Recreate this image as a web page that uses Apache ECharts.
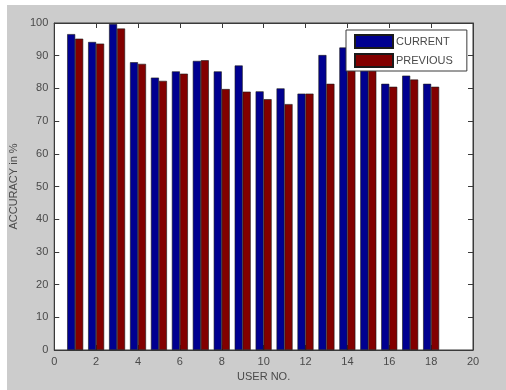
<!DOCTYPE html>
<html>
<head>
<meta charset="utf-8">
<script src="https://cdn.jsdelivr.net/npm/echarts@6/dist/echarts.min.js"></script>
<style>
  html, body { margin: 0; padding: 0; background: #ffffff; }
  #chart { width: 506px; height: 390px; }
</style>
</head>
<body>
<div id="chart"></div>
<script>
// Per-user recognition accuracy (%)
const users = [1, 2, 3, 4, 5, 6, 7, 8, 9, 10, 11, 12, 13, 14, 15, 16, 17, 18];
const currentAcc = [96.6, 94.2, 99.7, 88.0, 83.3, 85.2, 88.4, 85.2, 87.0, 79.1, 80.0, 78.4, 90.2, 92.5, 89.0, 81.4, 83.9, 81.4];
const previousAcc = [95.2, 93.7, 98.3, 87.5, 82.3, 84.5, 88.6, 79.8, 79.0, 76.7, 75.2, 78.4, 81.4, 86.0, 87.0, 80.5, 82.7, 80.5];
const seriesNames = ['CURRENT', 'PREVIOUS'];
const xTicks = { min: 0, max: 20, step: 2 };
const yTicks = { min: 0, max: 100, step: 10 };

const labelStyle = { color: '#4a4a4a', fontSize: 11, fontFamily: 'Liberation Sans, Arial, sans-serif' };
const lineStyle = { color: '#3a3a3a', width: 1 };

function pairs(vals) {
  return users.map((u, i) => [u, vals[i]]);
}

const chart = echarts.init(document.getElementById('chart'), null, { renderer: 'canvas' });

const xBase = {
  type: 'value', min: xTicks.min, max: xTicks.max, interval: xTicks.step,
  axisLine: { show: true, onZero: false, lineStyle },
  axisTick: { show: true, inside: true, length: 5, lineStyle },
  splitLine: { show: false }
};
const yBase = {
  type: 'value', min: yTicks.min, max: yTicks.max, interval: yTicks.step,
  axisLine: { show: true, onZero: false, lineStyle },
  axisTick: { show: true, inside: true, length: 5, lineStyle },
  splitLine: { show: false }
};

chart.setOption({
  animation: false,
  backgroundColor: '#ffffff',
  graphic: [{
    type: 'rect', z: -10, silent: true,
    shape: { x: 7, y: 5, width: 506, height: 390 },
    style: { fill: '#cccccc' }
  }],
  grid: {
    left: 53, right: 33, top: 23, bottom: 40,
    show: true, backgroundColor: '#ffffff', borderColor: '#3a3a3a', borderWidth: 1
  },
  legend: {
    left: 346, top: 30,
    orient: 'vertical',
    icon: 'rect',
    itemWidth: 38, itemHeight: 13, itemGap: 4,
    padding: [4, 14, 3, 8],
    backgroundColor: '#ffffff',
    borderColor: '#3a3a3a', borderWidth: 1,
    textStyle: { color: '#4a4a4a', fontSize: 11, fontFamily: 'Liberation Sans, Arial, sans-serif', padding: [0, 0, 0, -2] },
    data: seriesNames
  },
  xAxis: [
    Object.assign({}, xBase, {
      position: 'bottom',
      name: 'USER NO.', nameLocation: 'middle', nameGap: 20,
      nameTextStyle: labelStyle,
      axisLabel: Object.assign({ margin: 6 }, labelStyle)
    }),
    Object.assign({}, xBase, { position: 'top', axisLabel: { show: false } })
  ],
  yAxis: [
    Object.assign({}, yBase, {
      position: 'left',
      name: 'ACCURACY in %', nameLocation: 'middle', nameGap: 32,
      nameTextStyle: labelStyle,
      axisLabel: Object.assign({ margin: 6 }, labelStyle)
    }),
    Object.assign({}, yBase, { position: 'right', axisLabel: { show: false } })
  ],
  series: [
    {
      name: seriesNames[0], type: 'bar', xAxisIndex: 0, yAxisIndex: 0,
      data: pairs(currentAcc),
      barWidth: 8, barGap: '0%',
      itemStyle: { color: '#000090', borderColor: '#1a1a1a', borderWidth: 0.6 }
    },
    {
      name: seriesNames[1], type: 'bar', xAxisIndex: 0, yAxisIndex: 0,
      data: pairs(previousAcc),
      barWidth: 8, barGap: '0%',
      itemStyle: { color: '#820000', borderColor: '#1a1a1a', borderWidth: 0.6 }
    }
  ]
});
</script>
</body>
</html>
